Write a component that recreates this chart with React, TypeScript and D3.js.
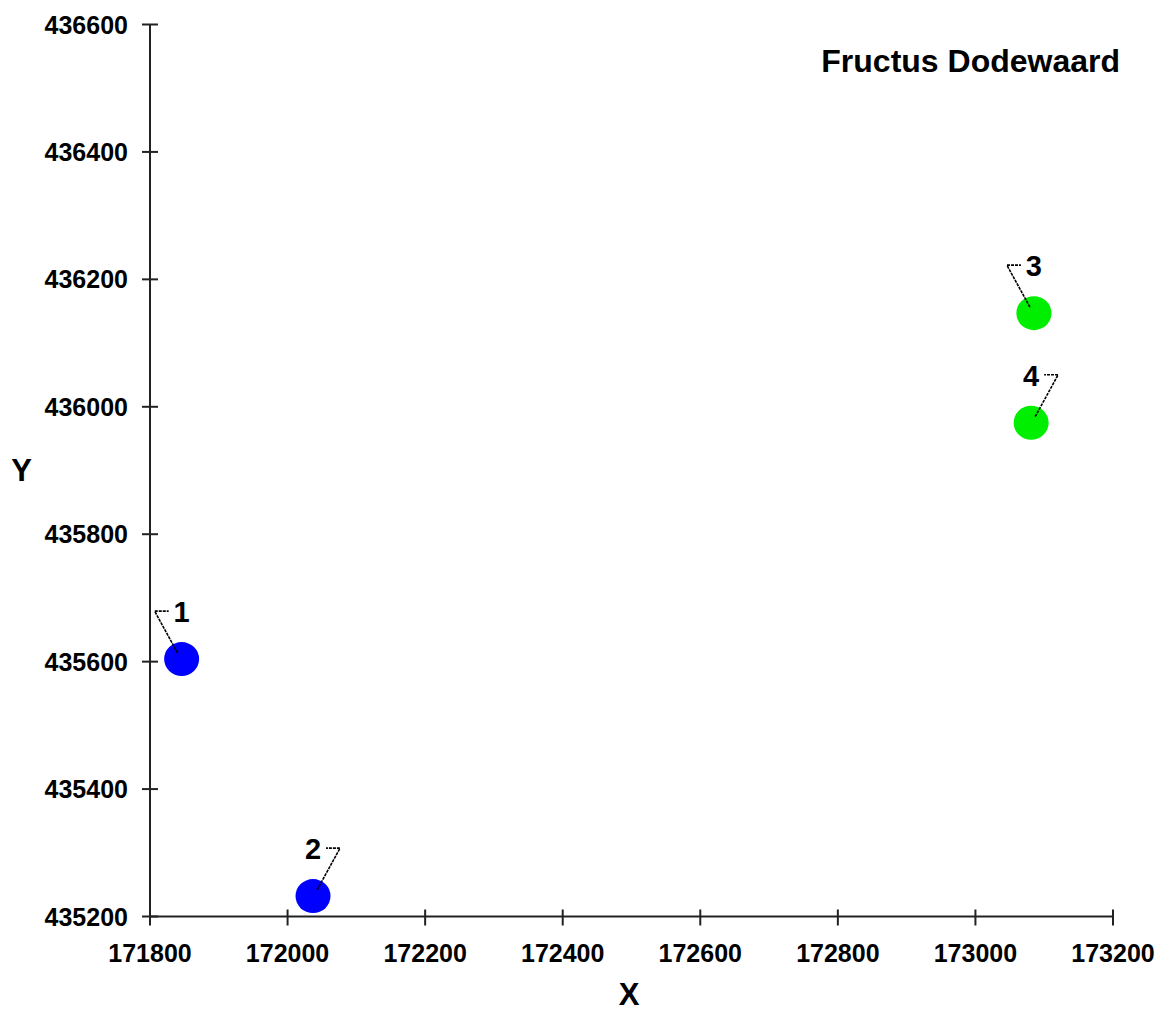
import React from "react";
import * as d3 from "d3";

const pointIds = ["1", "2", "3", "4"];
const xValues = [171846, 172037, 173085, 173081];
const yValues = [435604, 435232, 436147, 435975];
const pointGroups = ["blue", "blue", "green", "green"];
const leaderSides = [-1, 1, -1, 1];
const xTicks = [171800, 172000, 172200, 172400, 172600, 172800, 173000, 173200];
const yTicks = [435200, 435400, 435600, 435800, 436000, 436200, 436400, 436600];
const titleText = "Fructus Dodewaard";
const xLabel = "X";
const yLabel = "Y";

const W = 1158;
const H = 1012;
const FONT = "'Liberation Sans', Arial, sans-serif";

export default function App() {
  const x = d3.scaleLinear().domain([171800, 173200]).range([150, 1113]);
  const y = d3.scaleLinear().domain([435200, 436600]).range([916.5, 24.5]);
  const color = d3
    .scaleOrdinal<string, string>()
    .domain(["blue", "green"])
    .range(["#0000ff", "#00ee00"]);

  const axisColor = "#222";
  const x0 = x(171800);
  const y0 = y(435200);

  return (
    <svg
      width={W}
      height={H}
      style={{ position: "absolute", left: 0, top: 0, background: "#fff" }}
      fontFamily={FONT}
    >
      <rect x={0} y={0} width={W} height={H} fill="#fff" />
      {/* axes */}
      <line x1={x0} x2={x0} y1={y(436600)} y2={y0} stroke={axisColor} strokeWidth={2} />
      <line x1={x0} x2={x(173200)} y1={y0} y2={y0} stroke={axisColor} strokeWidth={2} />
      {yTicks.map((t) => (
        <g key={"y" + t}>
          <line x1={x0 - 8} x2={x0 + 8} y1={y(t)} y2={y(t)} stroke={axisColor} strokeWidth={2} />
          <text
            x={x0 - 22}
            y={y(t)}
            dy="0.36em"
            textAnchor="end"
            fontSize={25}
            fontWeight="bold"
            fill="#000"
          >
            {t}
          </text>
        </g>
      ))}
      {xTicks.map((t) => (
        <g key={"x" + t}>
          <line x1={x(t)} x2={x(t)} y1={y0 - 7} y2={y0 + 9} stroke={axisColor} strokeWidth={2} />
          <text
            x={x(t)}
            y={962}
            textAnchor="middle"
            fontSize={25}
            fontWeight="bold"
            fill="#000"
          >
            {t}
          </text>
        </g>
      ))}
      <text x={629} y={1005} textAnchor="middle" fontSize={31} fontWeight="bold" fill="#000">
        {xLabel}
      </text>
      <text x={21.7} y={481} textAnchor="middle" fontSize={31} fontWeight="bold" fill="#000">
        {yLabel}
      </text>
      <text x={1120} y={72} textAnchor="end" fontSize={32} fontWeight="bold" fill="#000">
        {titleText}
      </text>
      {/* points */}
      {pointIds.map((id, i) => {
        const cx = x(xValues[i]);
        const cy = y(yValues[i]);
        const s = leaderSides[i];
        return (
          <g key={"p" + id}>
            <ellipse cx={cx} cy={cy} rx={17.5} ry={17} fill={color(pointGroups[i])} />
            <polyline
              points={`${cx + s * 4},${cy - 6} ${cx + s * 27},${cy - 48} ${cx + s * 13},${cy - 48}`}
              fill="none"
              stroke="#000"
              strokeWidth={1.6}
              strokeDasharray="3,1"
            />
            <text
              x={cx}
              y={cy - 37}
              textAnchor="middle"
              fontSize={29}
              fontWeight="bold"
              fill="#000"
            >
              {id}
            </text>
          </g>
        );
      })}
    </svg>
  );
}
